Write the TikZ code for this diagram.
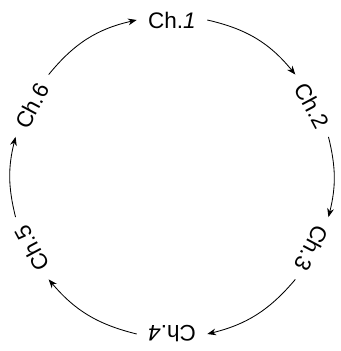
\documentclass[tikz,border=0pt]{standalone}
\usepackage{fontspec}
\setmainfont{Liberation Sans}
\usetikzlibrary{arrows.meta}
\tikzset{
  chapter/.style={inner xsep=8pt,inner ysep=2pt,font=\fontsize{16}{19}\selectfont},
  cycleflow/.style={-{Stealth[length=2.2mm,width=1.7mm]},line width=0.6pt,draw=black}
}
\begin{document}
\begin{tikzpicture}
  \useasboundingbox (0,0) rectangle (8.525,8.775);
  \coordinate (hub) at (4.3,4.35);
  \node[chapter] (ch1) at ([shift={(90:3.925)}]hub) {Ch.\textit{1}};
  \node[chapter,rotate=-62] (ch2) at ([shift={(27:3.925)}]hub) {Ch.2};
  \node[chapter,rotate=-118] (ch3) at ([shift={(-27:3.925)}]hub) {Ch.3};
  \node[chapter,rotate=180] (ch4) at ([shift={(-90:3.925)}]hub) {Ch.\textit{4}};
  \node[chapter,rotate=118] (ch5) at ([shift={(-153:3.925)}]hub) {Ch.5};
  \node[chapter,rotate=62] (ch6) at ([shift={(153:3.925)}]hub) {Ch.6};
  \draw[cycleflow] (ch1.east) to[bend left=19] (ch2.west);
  \draw[cycleflow] (ch2.east) to[bend left=14] (ch3.west);
  \draw[cycleflow] (ch3.east) to[bend left=18] (ch4.west);
  \draw[cycleflow] (ch4.east) to[bend left=18] (ch5.west);
  \draw[cycleflow] (ch5.east) to[bend left=14] (ch6.west);
  \draw[cycleflow] (ch6.east) to[bend left=19] (ch1.west);
\end{tikzpicture}
\end{document}
